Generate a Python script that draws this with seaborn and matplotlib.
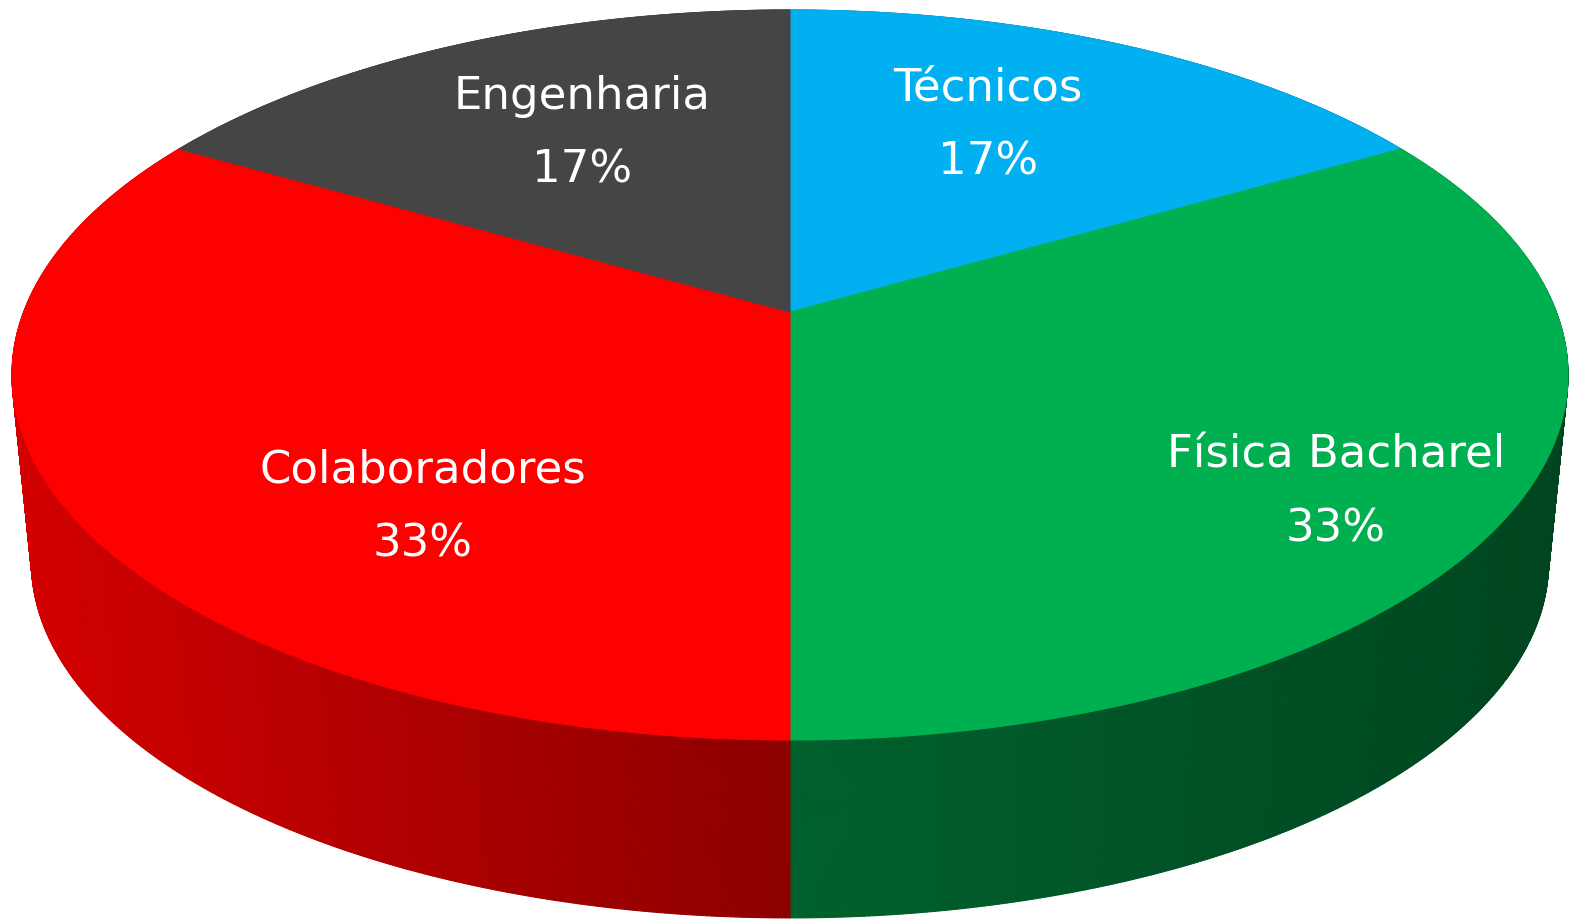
import numpy as np
import matplotlib
matplotlib.use("Agg")
import matplotlib.pyplot as plt
from matplotlib.collections import PolyCollection
from matplotlib.colors import to_rgb
import seaborn as sns

# data
labels = ["Técnicos", "Física Bacharel", "Colaboradores", "Engenharia"]
counts = [1, 2, 2, 1]
colors = ["#00B0F0", "#00B050", "#FF0000", "#454545"]

sns.set_theme(style="white")
plt.rcParams['font.family'] = ['DejaVu Sans']
palette = sns.color_palette(colors)

# geometry of the tilted 3d pie, in pixels
cx, cy, a, b = 790, 375, 778, 365
tilt = 0.1726          # pie centre sits above the ellipse centre (perspective)
depth = 187
shrink = 0.975         # bottom face a little smaller
fs = 32.4

# label placement: (angle nudge in deg, radius fraction)
label_shift = [(4.4, 0.66), (-4.9, 0.80), (18.4, 0.66), (-2.3, 0.64)]


def proj(r, theta):
    # true polar point on the pie -> unit ellipse coords
    t = np.radians(theta)
    u, v = r*np.cos(t), r*np.sin(t)
    den = 1 + tilt*v
    return u*np.sqrt(1 - tilt**2)/den, (v + tilt)/den


def to_px(u, v, bottom=False):
    if bottom:
        return cx + a*shrink*u, cy + depth - b*shrink*v
    return cx + a*u, cy - b*v


def shade(x):
    return np.interp(x, [12, 790, 1568], [0.83, 0.55, 0.39])


total = sum(counts)
cum = np.concatenate([[0], np.cumsum(counts)]) / total * 360
starts = 90 - cum[:-1]
ends = 90 - cum[1:]

fig = plt.figure(figsize=(15.72, 9.22), dpi=100)
ax = fig.add_axes([0, 0, 1, 1])
ax.set_xlim(0, 1572)
ax.set_ylim(922, 0)
ax.axis('off')

# side wall, drawn back to front
thetas = np.linspace(0, 360, 1441)
quads, qcols, depthkey = [], [], []
for t0, t1 in zip(thetas[:-1], thetas[1:]):
    tm = 0.5*(t0 + t1)
    phi = (90 - tm) % 360
    idx = min(np.searchsorted(cum, phi, side='right') - 1, len(counts) - 1)
    u0, v0 = proj(1, t0)
    u1, v1 = proj(1, t1)
    p = [to_px(u0, v0), to_px(u1, v1), to_px(u1, v1, True), to_px(u0, v0, True)]
    xm = np.mean([q[0] for q in p])
    quads.append(p)
    qcols.append(tuple(np.array(to_rgb(palette[idx])) * shade(xm)))
    depthkey.append(np.sin(np.radians(tm)))
order = np.argsort(depthkey)[::-1]
pc = PolyCollection([quads[i] for i in order], facecolors=[qcols[i] for i in order],
                    edgecolors=[qcols[i] for i in order], linewidths=0.8)
ax.add_collection(pc)

# top face
apex = to_px(*proj(0, 0))
for i in range(len(counts)):
    th = np.linspace(starts[i], ends[i], 200)
    uu, vv = proj(1, th)
    xs, ys = to_px(uu, vv)
    ax.fill(np.r_[apex[0], xs], np.r_[apex[1], ys], color=palette[i], lw=0.8,
            ec=palette[i])

# labels
for i, name in enumerate(labels):
    mid = 0.5*(starts[i] + ends[i])
    dth, r = label_shift[i]
    lx, ly = to_px(*proj(r, mid + dth))
    pct = f"{counts[i]/total*100:.0f}%"
    ax.text(lx, ly - 20.5, name, color='white', fontsize=fs, ha='center', va='baseline')
    ax.text(lx, ly + 53.5, pct, color='white', fontsize=fs, ha='center', va='baseline')

fig.savefig("out.png", dpi=100)
